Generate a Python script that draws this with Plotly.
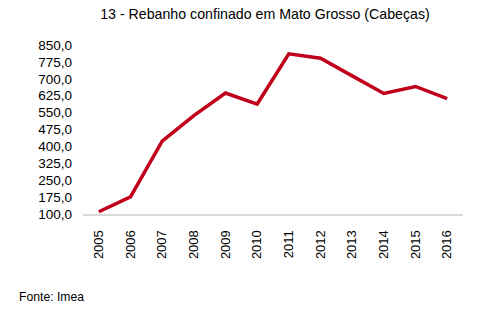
import plotly.graph_objects as go

years = ["2005", "2006", "2007", "2008", "2009", "2010", "2011", "2012", "2013", "2014", "2015", "2016"]
values = [110, 176, 423, 537, 637, 588, 811, 791, 713, 635, 666, 612]
y_ticks = [100, 175, 250, 325, 400, 475, 550, 625, 700, 775, 850]

fig = go.Figure()
fig.add_trace(go.Scatter(
    x=years, y=values, mode="lines",
    line=dict(color="#C0001A", width=3.5),
    hoverinfo="skip",
))

fig.update_layout(
    width=487, height=334,
    margin=dict(l=83, r=24, t=45, b=120),
    paper_bgcolor="white", plot_bgcolor="white",
    separators=",.",
    font=dict(family="Liberation Sans, Arial, sans-serif", size=13, color="#000000"),
    title=dict(text="13 - Rebanho confinado em Mato Grosso (Cabeças)",
               x=265/487, xanchor="center", y=1-14/334, yanchor="middle",
               font=dict(size=14.2, color="#000000")),
    showlegend=False,
)
fig.update_xaxes(
    type="category", range=[-0.5, 11.5],
    showline=True, linecolor="#D9D9D9", linewidth=2,
    showgrid=False, zeroline=False, ticks="",
    tickangle=-90, ticklabelstandoff=9,
    tickfont=dict(size=13),
)
fig.update_yaxes(
    range=[100, 850], tickvals=y_ticks, tickformat=".1f",
    showline=False, showgrid=False, zeroline=False, ticks="",
    ticklabelstandoff=10, tickfont=dict(size=13.5),
)
fig.add_annotation(
    text="Fonte: Imea", xref="paper", yref="paper",
    x=(17-83)/380, y=-(297-214)/169, xanchor="left", yanchor="middle",
    showarrow=False, font=dict(size=12.2, color="#000000"),
)

fig.write_html("out.html")
